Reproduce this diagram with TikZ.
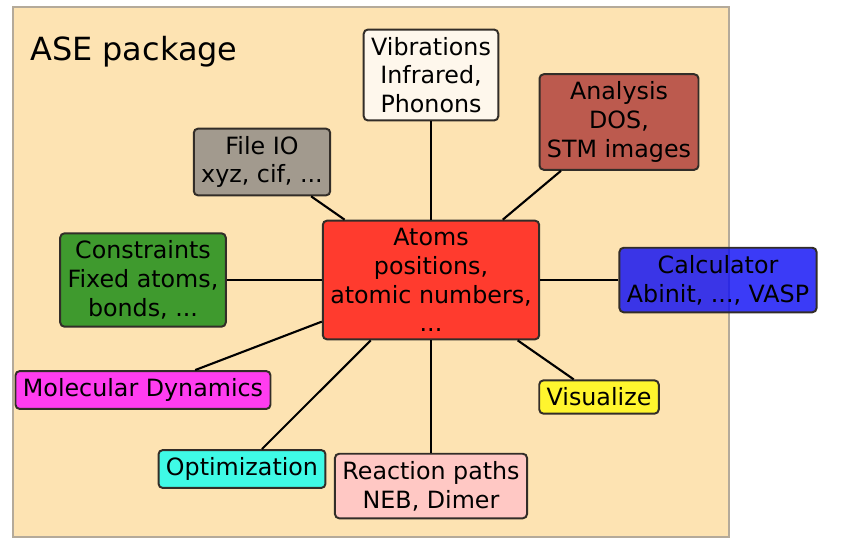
\documentclass[tikz,border=0pt]{standalone}
\usepackage{fontspec}
\setmainfont{DejaVu Sans}
\usepackage{tikz}
\usetikzlibrary{positioning}

\definecolor{panelbg}{RGB}{253,227,178}
\definecolor{panelrim}{RGB}{180,170,154}
\definecolor{boxrim}{RGB}{50,45,40}
\definecolor{vibfill}{RGB}{254,247,236}
\definecolor{anafill}{RGB}{188,90,78}
\definecolor{iofill}{RGB}{162,154,142}
\definecolor{consfill}{RGB}{63,154,46}
\definecolor{atomfill}{RGB}{255,59,46}
\definecolor{calcfill}{RGB}{10,10,245}
\definecolor{mdfill}{RGB}{255,61,240}
\definecolor{visfill}{RGB}{255,245,46}
\definecolor{optfill}{RGB}{63,250,230}
\definecolor{rxnfill}{RGB}{255,200,196}

\begin{document}
\begin{tikzpicture}[x=0.025cm, y=-0.025cm,
    modbox/.style={draw=boxrim, line width=1.4pt, rounded corners=3pt,
      inner sep=5.3pt, align=center, font=\fontsize{16.9}{20.5}\selectfont},
    link/.style={line width=1.5pt, black}]
    \useasboundingbox (0,0) rectangle (846,555);
    % panel
    \fill[panelbg] (13,7) rectangle (729,537);
    \draw[panelrim, line width=1.4pt] (13,7) rectangle (729,537);
    \node[anchor=base west, inner sep=0pt, font=\fontsize{22.7}{26}\selectfont] (title) at (30,60) {ASE package};

    % modules
    \node[modbox, fill=atomfill] (atoms) at (431,280) {Atoms\\positions,\\atomic numbers,\\...};
    \node[modbox, fill=vibfill] (vib) at (431,75) {Vibrations\\Infrared,\\Phonons};
    \node[modbox, fill=anafill] (ana) at (619,122) {Analysis\\DOS,\\STM images};
    \node[modbox, fill=iofill] (fileio) at (262,162) {File IO\\xyz, cif, ...};
    \node[modbox, fill=consfill] (cons) at (143,280) {Constraints\\Fixed atoms,\\bonds, ...};
    \node[modbox, fill=calcfill, fill opacity=0.8, text opacity=1] (calc) at (718,280) {Calculator\\Abinit, ..., VASP};
    \node[modbox, fill=mdfill] (md) at (143,390) {Molecular Dynamics};
    \node[modbox, fill=visfill] (vis) at (599,397) {Visualize};
    \node[modbox, fill=optfill] (opt) at (242,469) {Optimization};
    \node[modbox, fill=rxnfill] (rxn) at (431,486) {Reaction paths\\NEB, Dimer};

    % links to Atoms
    \draw[link] (atoms) -- (vib);
    \draw[link] (atoms) -- (ana);
    \draw[link] (atoms) -- (fileio);
    \draw[link] (atoms) -- (cons);
    \draw[link] (atoms) -- (calc);
    \draw[link] (atoms) -- (md);
    \draw[link] (atoms) -- (vis);
    \draw[link] (atoms) -- (opt);
    \draw[link] (atoms) -- (rxn);
\end{tikzpicture}
\end{document}
